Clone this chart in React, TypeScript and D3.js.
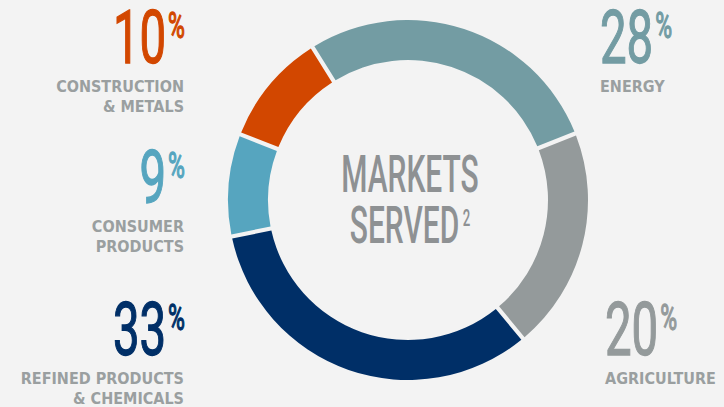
import React, { useRef, useEffect } from "react";
import * as d3 from "d3";

// market shares, clockwise from the top-left
const categories = ["ENERGY", "AGRICULTURE", "REFINED PRODUCTS & CHEMICALS", "CONSUMER PRODUCTS", "CONSTRUCTION & METALS"];
const labelLines = [["ENERGY"], ["AGRICULTURE"], ["REFINED PRODUCTS", "& CHEMICALS"], ["CONSUMER", "PRODUCTS"], ["CONSTRUCTION", "& METALS"]];
const shares = [28, 20, 33, 9, 10];
const colors = ["#739ca3", "#949a9b", "#002f67", "#56a5bf", "#d24700"];
const centerTitle = ["MARKETS", "SERVED"];
const footnote = "2";

const width = 724;
const height = 407;
const bg = "#f3f3f3";
const labelGrey = "#9a9fa0";
const cx = 408;
const cy = 200;
const outerR = 180;
const innerR = 140;
const startAngle = (-32 * Math.PI) / 180;

// where each callout sits: side of the ring, anchor x, baseline of the big number
const labelLayout = [
    { side: "right", x: 600, y: 63 },
    { side: "right", x: 605, y: 355 },
    { side: "left", x: 185, y: 355 },
    { side: "left", x: 185, y: 203 },
    { side: "left", x: 185, y: 63 },
];

const pie = d3
    .pie<number>()
    .sort(null)
    .value((d) => d)
    .startAngle(startAngle)
    .endAngle(startAngle + 2 * Math.PI)
    .padAngle(0.022);

const arc = d3
    .arc<d3.PieArcDatum<number>>()
    .innerRadius(innerR)
    .outerRadius(outerR)
    .padRadius(190);

function draw(ref: SVGSVGElement) {
    const svg = d3.select(ref);
    svg.selectAll("*").remove();

    svg.append("rect").attr("width", width).attr("height", height).attr("fill", bg);

    // the ring
    svg.append("g")
        .attr("transform", `translate(${cx},${cy})`)
        .selectAll("path")
        .data(pie(shares))
        .join("path")
        .attr("d", arc)
        .attr("fill", (_d, i) => colors[i]);

    // centre title
    const title = svg
        .append("g")
        .attr("transform", `translate(410,0) scale(0.576,1)`)
        .attr("fill", "#8e9193")
        .style("font-family", "Roboto")
        .style("font-weight", 500)
        .attr("text-anchor", "middle");
    title.append("text").attr("y", 192).attr("font-size", 52).text(centerTitle[0]);
    const t2 = title.append("text").attr("y", 243).attr("font-size", 52);
    t2.append("tspan").text(centerTitle[1]);
    t2.append("tspan").attr("font-size", 23).attr("dy", -17).attr("dx", 6).text(footnote);

    // callouts
    labelLayout.forEach((pos, i) => {
        const anchor = pos.side === "left" ? "end" : "start";
        const num = svg
            .append("g")
            .attr("transform", `translate(${pos.x},${pos.y}) scale(0.64,1)`)
            .style("font-family", "Roboto")
            .style("font-weight", 400)
            .attr("fill", colors[i])
            .attr("stroke", colors[i])
            .attr("stroke-width", 1.3)
            .append("text")
            .attr("text-anchor", anchor);
        num.append("tspan").attr("font-size", 74).text(shares[i]);
        num.append("tspan").attr("font-size", 36).attr("dy", -25).attr("dx", 3).text("%");

        labelLines[i].forEach((line, j) => {
            svg.append("g")
                .attr("transform", `translate(${pos.side === "left" ? pos.x - 1 : pos.x},${pos.y + 29 + j * 20}) scale(0.9,1)`)
                .append("text")
                .attr("text-anchor", anchor)
                .attr("fill", labelGrey)
                .style("font-family", "DejaVu Sans")
                .style("font-weight", 700)
                .attr("font-size", 16)
                .text(line);
        });
    });
}

export default function App() {
    const ref = useRef<SVGSVGElement>(null);

    useEffect(() => {
        if (ref.current) draw(ref.current);
    }, []);

    return (
        <svg
            ref={ref}
            width={width}
            height={height}
            style={{ position: "absolute", left: 0, top: 0, display: "block" }}
            aria-label={categories.join(", ")}
        />
    );
}
